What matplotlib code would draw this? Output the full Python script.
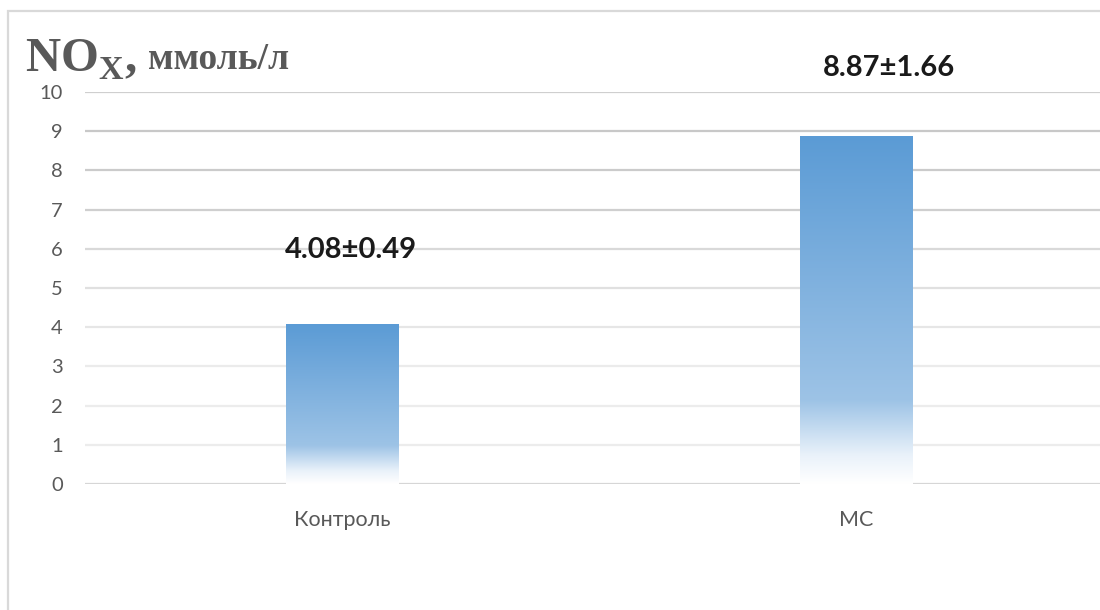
import numpy as np
import matplotlib.pyplot as plt
from matplotlib.colors import LinearSegmentedColormap
from matplotlib.patches import Rectangle

categories = ["Контроль", "МС"]
means = [4.08, 8.87]
errors = [0.49, 1.66]
yticks = list(range(0, 11))

W, H = 1100, 610
fig = plt.figure(figsize=(W / 100, H / 100), dpi=100)
fig.patch.set_facecolor("white")

# chart frame (runs off the right and bottom edge)
fig.add_artist(Rectangle((8 / W, -0.05), 1.2, (H - 11) / H + 0.05,
                         transform=fig.transFigure, fill=False,
                         edgecolor="#d9d9d9", linewidth=1.6))

ax = fig.add_axes([85 / W, (H - 484) / H, (1113 - 85) / W, (484 - 92) / H])
ax.set_xlim(-0.5, len(categories) - 0.5)
ax.set_ylim(0, 10)
for s in ax.spines.values():
    s.set_visible(False)

# horizontal gridlines, darker towards the top
grid_colors = ["#d6d6d6", "#ececec", "#ececec", "#ebebeb", "#e6e6e6",
               "#e0e0e0", "#d9d9d9", "#cfcfcf", "#cbcbcb", "#c8c8c8", "#cfcfcf"]
for v, c in zip(yticks, grid_colors):
    ax.axhline(v, color=c, linewidth=1.6, zorder=1)

ax.set_yticks(yticks)
ax.set_xticks(range(len(categories)))
ax.set_xticklabels(categories)
ax.tick_params(axis="both", length=0, colors="#595959")
ax.tick_params(axis="y", pad=16, labelsize=14.5)
ax.tick_params(axis="x", pad=19, labelsize=15.5)
for lab in ax.get_xticklabels() + ax.get_yticklabels():
    lab.set_fontfamily("Lato")

# vertical gradient fill for bars
cmap = LinearSegmentedColormap.from_list(
    "barfade", [(0.0, "#ffffff"), (0.08, "#eaf2fa"), (0.24, "#9dc3e6"),
                (1.0, "#5b9bd5")])
grad = np.linspace(0, 1, 256).reshape(-1, 1)
bar_w = 0.218
bars = ax.bar(range(len(categories)), means, width=bar_w, color="none",
              edgecolor="none", zorder=2)
for b in bars:
    x0, y0 = b.get_x(), b.get_y()
    w, h = b.get_width(), b.get_height()
    im = ax.imshow(grad, cmap=cmap, origin="lower", aspect="auto",
                   extent=(x0, x0 + w, y0, y0 + h), zorder=3,
                   interpolation="bicubic")
    im.set_clip_path(b)
ax.set_xlim(-0.5, len(categories) - 0.5)
ax.set_ylim(0, 10)

# value labels
label_y = [5.97, 10.6]
for i, (m, e, ly) in enumerate(zip(means, errors, label_y)):
    ax.text(i + 0.017 + 0.047 * i, ly, f"{m:.2f}±{e:.2f}", ha="center",
            va="center", fontsize=21, fontweight="bold", color="#1a1a1a",
            fontfamily="Lato", clip_on=False, zorder=5)

# title with subscript
fig.text(25 / W, (H - 72) / H, r"NO$_{\mathregular{X}}$,", fontsize=35,
         fontweight="bold", fontfamily="Liberation Serif", color="#595959",
         va="baseline", ha="left")
fig.text(148 / W, (H - 69) / H, "ммоль/л", fontsize=27, fontweight="bold",
         fontfamily="Liberation Serif", color="#595959", va="baseline",
         ha="left")

fig.savefig("out.png", dpi=100, facecolor="white")
